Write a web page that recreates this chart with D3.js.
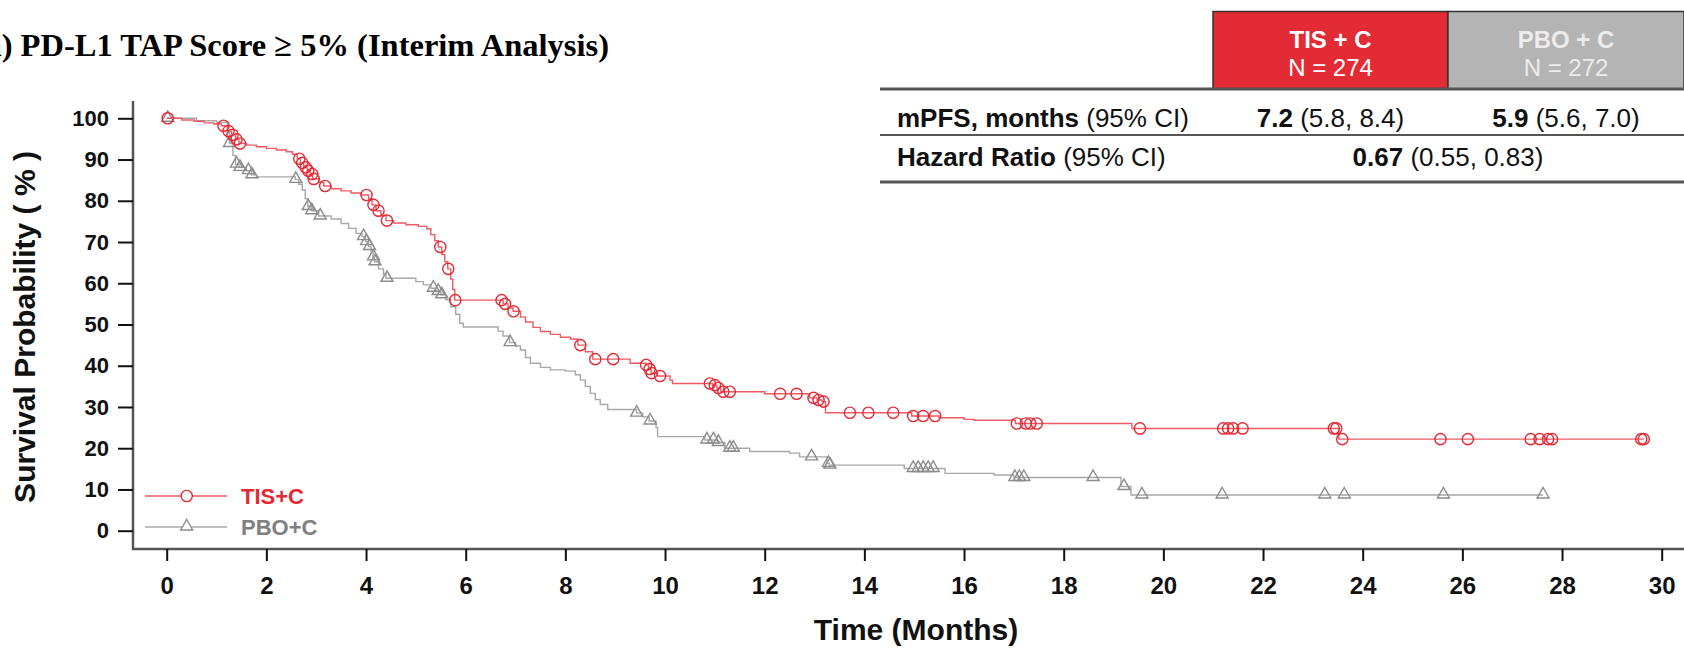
<!DOCTYPE html>
<html>
<head>
<meta charset="utf-8">
<script src="https://cdn.jsdelivr.net/npm/d3@7"></script>
<style>
  html, body { margin: 0; padding: 0; background: #fff; }
  svg { display: block; font-family: "Liberation Sans", Arial, sans-serif; }
</style>
</head>
<body>
<svg id="chart" width="1684" height="649"></svg>
<script>
// step points of each Kaplan-Meier curve: [months, survival %]
const tisSteps = [
  [0, 100], [0.3, 99.6], [0.55, 99.3], [0.75, 98.9], [0.95, 98.6], [1.1, 98.2],
  [1.22, 96.9], [1.3, 96.0], [1.38, 94.9], [1.45, 93.9], [1.6, 93.5], [1.8, 93.1],
  [2.0, 92.7], [2.2, 92.3], [2.4, 91.9], [2.52, 91.3], [2.62, 90.2], [2.68, 89.2],
  [2.75, 88.1], [2.82, 87.3], [2.88, 86.5], [2.93, 85.3], [3.05, 84.5], [3.15, 83.6],
  [3.3, 82.9], [3.5, 82.4], [3.7, 81.9], [3.9, 81.4], [4.05, 80.5], [4.12, 79.0],
  [4.2, 77.6], [4.3, 76.5], [4.4, 75.2], [4.55, 74.6], [4.8, 74.2], [5.05, 73.8],
  [5.22, 73.2], [5.3, 71.8], [5.38, 70.3], [5.45, 68.8], [5.52, 67.0], [5.58, 65.2],
  [5.64, 63.5], [5.7, 61.0], [5.74, 58.5], [5.78, 55.9], [6.75, 55.0], [6.85, 54.0],
  [6.95, 53.2], [7.1, 51.8], [7.2, 50.6], [7.35, 49.3], [7.5, 48.3], [7.7, 47.6],
  [7.9, 46.9], [8.1, 46.5], [8.25, 45.0], [8.4, 43.4], [8.55, 41.6], [9.3, 40.6],
  [9.62, 40.2], [9.67, 39.2], [9.72, 38.2], [9.85, 37.5], [10.1, 36.5], [10.15, 35.7],
  [10.95, 35.3], [11.04, 34.6], [11.12, 33.7], [12.0, 33.2], [12.9, 32.2], [13.05, 31.7],
  [13.15, 31.3], [13.22, 28.6], [14.95, 27.8], [15.5, 27.4], [16.0, 27.0], [16.2, 26.8],
  [17.03, 26.0], [19.37, 24.8], [23.52, 22.2], [29.64, 22.2]
];
const pboSteps = [
  [0, 100], [0.6, 99.4], [1.0, 99.0], [1.22, 96.5], [1.26, 93.9], [1.33, 91.0],
  [1.38, 88.9], [1.45, 88.1], [1.6, 87.3], [1.7, 86.3], [1.8, 85.8], [2.58, 85.2],
  [2.65, 84.0], [2.72, 82.6], [2.78, 80.5], [2.83, 78.6], [2.9, 77.6], [3.05, 76.3],
  [3.3, 75.6], [3.5, 74.5], [3.65, 73.3], [3.8, 72.1], [3.92, 71.3], [3.99, 70.1],
  [4.05, 68.9], [4.1, 67.6], [4.14, 66.4], [4.17, 65.2], [4.25, 63.5], [4.35, 62.2],
  [4.4, 61.2], [5.0, 60.4], [5.15, 59.6], [5.3, 58.8], [5.4, 58.0], [5.5, 57.2],
  [5.6, 56.0], [5.7, 54.3], [5.8, 52.5], [5.88, 50.3], [5.95, 49.4], [6.65, 48.4],
  [6.75, 47.2], [6.88, 45.6], [7.0, 44.8], [7.1, 43.8], [7.2, 42.0], [7.3, 40.6],
  [7.5, 39.6], [7.7, 39.0], [8.0, 38.7], [8.2, 37.8], [8.3, 36.5], [8.4, 35.0],
  [8.5, 33.3], [8.6, 31.8], [8.7, 30.6], [8.85, 29.4], [9.43, 28.5], [9.55, 27.6],
  [9.68, 26.6], [9.82, 25.0], [9.85, 22.8], [10.8, 22.0], [11.05, 21.4], [11.2, 20.0],
  [11.7, 19.2], [12.5, 18.8], [12.7, 17.9], [13.25, 16.3], [13.3, 15.9], [14.8, 15.1],
  [15.62, 13.9], [16.6, 13.5], [17.0, 12.9], [19.15, 10.7], [19.35, 8.66], [27.62, 8.66]
];
// censoring times (months)
const tisCensored = [
  0.02, 1.14, 1.24, 1.32, 1.40, 1.47, 2.66, 2.72, 2.79, 2.84, 2.92, 2.95, 3.18,
  4.01, 4.15, 4.25, 4.42, 5.49, 5.65, 5.79, 6.72, 6.79, 6.96, 8.3, 8.6, 8.96,
  9.62, 9.69, 9.73, 9.9, 10.9, 11.0, 11.07, 11.17, 11.3, 12.31, 12.64, 12.98,
  13.08, 13.18, 13.71, 14.08, 14.58, 14.98, 15.18, 15.42, 17.06, 17.24, 17.33,
  17.46, 19.53, 21.2, 21.3, 21.4, 21.59, 23.42, 23.47, 23.59, 25.56, 26.11,
  27.37, 27.55, 27.72, 27.8, 29.59, 29.64
];
const pboCensored = [
  0.02, 1.26, 1.40, 1.47, 1.64, 1.71, 2.59, 2.84, 2.91, 3.08, 3.95, 4.01, 4.07,
  4.15, 4.18, 4.42, 5.35, 5.45, 5.52, 6.89, 9.43, 9.7, 10.84, 10.97, 11.07, 11.3,
  11.37, 12.94, 13.28, 13.31, 14.98, 15.08, 15.18, 15.28, 15.38, 17.02, 17.11,
  17.2, 18.59, 19.21, 19.57, 21.18, 23.24, 23.63, 25.62, 27.62
];
const xTicks = d3.range(0, 31, 2);
const yTicks = d3.range(0, 101, 10);

const armNames = ["TIS+C", "PBO+C"];
const tableHead = [["TIS + C", "N = 274"], ["PBO + C", "N = 272"]];
const mpfs = [["7.2", " (5.8, 8.4)"], ["5.9", " (5.6, 7.0)"]];
const hazard = ["0.67", " (0.55, 0.83)"];

const RED = "#e32b36", GREY = "#8c8c8c";

const svg = d3.select("#chart");
const x = d3.scaleLinear().domain([0, 30]).range([166.7, 1661.7]);
const y = d3.scaleLinear().domain([0, 100]).range([530.7, 118.3]);

function survAt(steps, t) {
  let v = steps[0][1];
  for (const [st, sv] of steps) { if (st <= t) v = sv; else break; }
  return v;
}

// axes
svg.append("line").attr("x1", 133).attr("x2", 133).attr("y1", 101).attr("y2", 550)
  .attr("stroke", "#555").attr("stroke-width", 2.5);
svg.append("line").attr("x1", 132).attr("x2", 1684).attr("y1", 549).attr("y2", 549)
  .attr("stroke", "#555").attr("stroke-width", 2.5);

const yAxis = svg.append("g").attr("transform", "translate(133,0)")
  .call(d3.axisLeft(y).tickValues(yTicks).tickSize(15).tickPadding(9));
yAxis.select(".domain").remove();
yAxis.selectAll(".tick line").attr("stroke", "#111").attr("stroke-width", 2);
yAxis.selectAll(".tick text").attr("fill", "#111")
  .style("font", "bold 22px 'Liberation Sans', Arial, sans-serif");

const xAxis = svg.append("g").attr("transform", "translate(0,549)")
  .call(d3.axisBottom(x).tickValues(xTicks).tickSize(12).tickPadding(16));
xAxis.select(".domain").remove();
xAxis.selectAll(".tick line").attr("stroke", "#111").attr("stroke-width", 2);
xAxis.selectAll(".tick text").attr("fill", "#111")
  .style("font", "bold 24px 'Liberation Sans', Arial, sans-serif");

svg.append("text").attr("x", 916).attr("y", 640).attr("text-anchor", "middle")
  .style("font", "bold 30px 'Liberation Sans', Arial, sans-serif").attr("fill", "#111")
  .text("Time (Months)");
svg.append("text").attr("transform", "translate(35,327) rotate(-90)").attr("text-anchor", "middle")
  .style("font", "bold 30px 'Liberation Sans', Arial, sans-serif").attr("fill", "#111")
  .text("Survival Probability ( % )");

// title (left edge runs off the picture, as in the source figure)
svg.append("text").attr("x", 609).attr("y", 56).attr("text-anchor", "end")
  .style("font", "bold 32.5px 'Liberation Serif', 'Times New Roman', serif").attr("fill", "#000")
  .text("a) PD-L1 TAP Score \u2265 5% (Interim Analysis)");

// curves
const line = d3.line().curve(d3.curveStepAfter).x(d => x(d[0])).y(d => y(d[1]));
svg.append("path").attr("d", line(pboSteps)).attr("fill", "none")
  .attr("stroke", "#a8a8a8").attr("stroke-width", 1.4);
svg.append("path").attr("d", line(tisSteps)).attr("fill", "none")
  .attr("stroke", "#ef5a64").attr("stroke-width", 1.4);

const tri = "M0,-6.5L6,4L-6,4Z";
svg.append("g").selectAll("path").data(pboCensored).join("path")
  .attr("transform", d => `translate(${x(d)},${y(survAt(pboSteps, d)) - 1})`)
  .attr("d", tri).attr("fill", "none").attr("stroke", GREY).attr("stroke-width", 1.4);
svg.append("g").selectAll("circle").data(tisCensored).join("circle")
  .attr("cx", d => x(d)).attr("cy", d => y(survAt(tisSteps, d)))
  .attr("r", 5.6).attr("fill", "none").attr("stroke", RED).attr("stroke-width", 1.4);

// legend
const leg = svg.append("g");
leg.append("line").attr("x1", 145).attr("x2", 227).attr("y1", 496).attr("y2", 496)
  .attr("stroke", "#ef5a64").attr("stroke-width", 1.4);
leg.append("circle").attr("cx", 186.7).attr("cy", 496).attr("r", 5.6)
  .attr("fill", "#fff").attr("stroke", RED).attr("stroke-width", 1.4);
leg.append("line").attr("x1", 145).attr("x2", 227).attr("y1", 527).attr("y2", 527)
  .attr("stroke", "#a8a8a8").attr("stroke-width", 1.4);
leg.append("path").attr("transform", "translate(186.7,526)").attr("d", tri)
  .attr("fill", "#fff").attr("stroke", GREY).attr("stroke-width", 1.4);
leg.selectAll("text").data(armNames).join("text")
  .attr("x", 241).attr("y", (d, i) => 504 + i * 31)
  .attr("fill", (d, i) => i === 0 ? RED : "#808080")
  .style("font", "bold 22px 'Liberation Sans', Arial, sans-serif")
  .text(d => d);

// summary table
const tbl = svg.append("g");
const colX = [1213, 1448, 1684];
const colFill = [RED, "#b4b4b4"];
const colText = ["#fff", "#ececec"];
tableHead.forEach((h, i) => {
  tbl.append("rect").attr("x", colX[i]).attr("y", 11.5).attr("width", colX[i + 1] - colX[i])
    .attr("height", 77.5).attr("fill", colFill[i]).attr("stroke", "#333").attr("stroke-width", 1.5);
  const cx = (colX[i] + colX[i + 1]) / 2;
  tbl.append("text").attr("x", cx).attr("y", 48).attr("text-anchor", "middle")
    .attr("fill", colText[i]).style("font", "bold 24px 'Liberation Sans', Arial, sans-serif").text(h[0]);
  tbl.append("text").attr("x", cx).attr("y", 76).attr("text-anchor", "middle")
    .attr("fill", colText[i]).style("font", "24px 'Liberation Sans', Arial, sans-serif").text(h[1]);
});
[[89, 3], [135, 2], [182, 3]].forEach(([yy, w]) => {
  tbl.append("line").attr("x1", 880).attr("x2", 1684).attr("y1", yy).attr("y2", yy)
    .attr("stroke", "#555").attr("stroke-width", w);
});
const cellFont = "26px 'Liberation Sans', Arial, sans-serif";
function richText(xx, yy, anchor, bold, rest) {
  const t = tbl.append("text").attr("x", xx).attr("y", yy).attr("text-anchor", anchor)
    .attr("fill", "#111").style("font", cellFont);
  t.append("tspan").attr("font-weight", "bold").text(bold);
  t.append("tspan").text(rest);
}
richText(897, 127, "start", "mPFS, months", " (95% CI)");
richText(897, 166, "start", "Hazard Ratio", " (95% CI)");
mpfs.forEach((m, i) => richText((colX[i] + colX[i + 1]) / 2, 127, "middle", m[0], m[1]));
richText(colX[1], 166, "middle", hazard[0], hazard[1]);
</script>
</body>
</html>
